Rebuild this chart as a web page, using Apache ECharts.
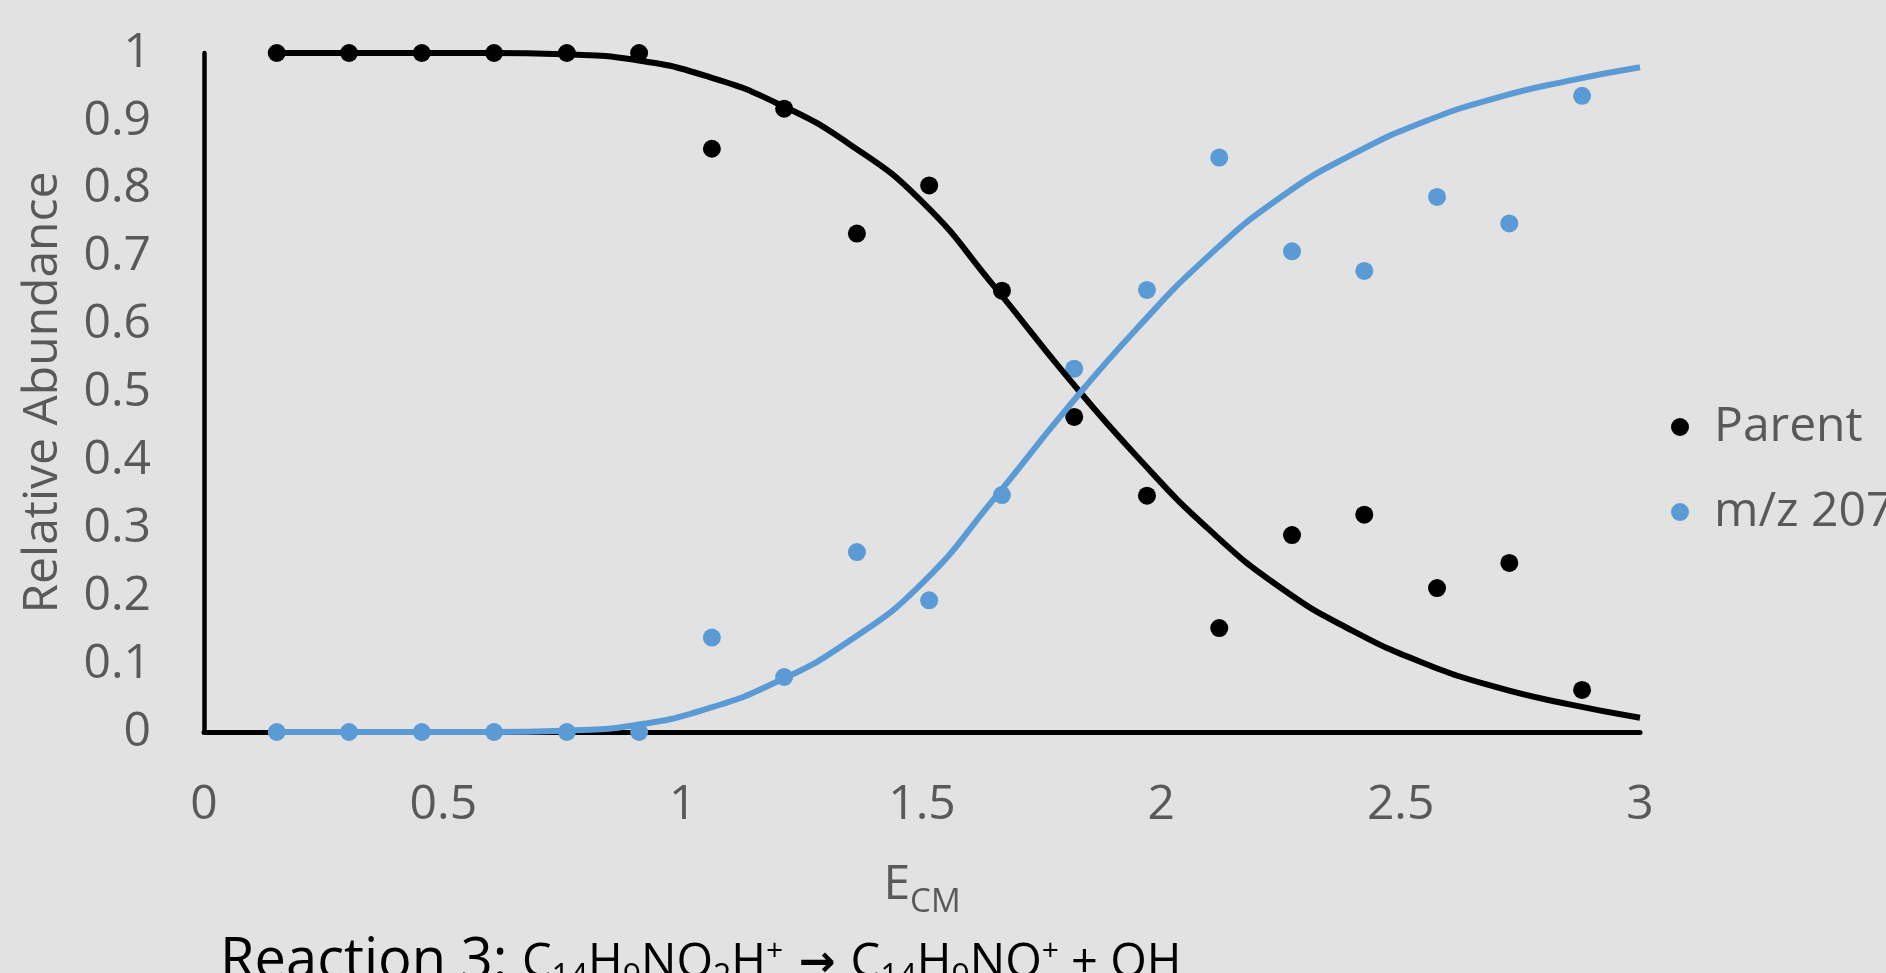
<!DOCTYPE html>
<html>
<head>
<meta charset="utf-8">
<script src="https://cdn.jsdelivr.net/npm/echarts@6/dist/echarts.min.js"></script>
<style>
  html, body { margin: 0; padding: 0; background: #e2e2e2; }
  #chart { width: 1886px; height: 973px; }
</style>
</head>
<body>
<div id="chart"></div>
<script>
// measured points (E_CM vs relative abundance)
const energy = [0.152, 0.303, 0.455, 0.606, 0.758, 0.909, 1.061, 1.212, 1.364, 1.515,
                1.667, 1.818, 1.970, 2.121, 2.273, 2.424, 2.576, 2.727, 2.879]
const parent = [1, 1, 1, 1, 1, 1, 0.859, 0.918, 0.734, 0.805,
                0.650, 0.464, 0.348, 0.153, 0.290, 0.320, 0.212, 0.249, 0.062]
const mz207 = [0, 0, 0, 0, 0, 0, 0.139, 0.081, 0.265, 0.194,
               0.349, 0.535, 0.651, 0.846, 0.708, 0.679, 0.788, 0.749, 0.937]

// fitted curves
const fitEnergy = [0.152, 0.3, 0.45, 0.6, 0.75, 0.9, 1.05, 1.2, 1.35, 1.5,
                   1.65, 1.8, 1.95, 2.1, 2.25, 2.4, 2.55, 2.7, 2.85, 3.0]
const fitParent = [1, 1, 1, 1, 0.998, 0.990, 0.966, 0.925, 0.865, 0.781,
                   0.657, 0.526, 0.405, 0.298, 0.212, 0.149, 0.101, 0.066, 0.041, 0.021]
const fitMz207 = [0, 0, 0, 0, 0.002, 0.010, 0.034, 0.075, 0.135, 0.219,
                  0.343, 0.474, 0.595, 0.702, 0.788, 0.851, 0.899, 0.934, 0.959, 0.979]

const seriesNames = ['Parent', 'm/z 207']
const black = '#000000'
const blue = '#5b9bd5'
const grey = '#595959'
const font = 'Open Sans'

function pairs(xs, ys) {
  return xs.map((x, i) => [x, ys[i]])
}

var myChart = echarts.init(document.getElementById('chart'))

var option = {
  backgroundColor: '#e2e2e2',
  animation: false,
  title: {
    text: '{r|Reaction 3: }{m|C}{s|14}{m|H}{s|9}{m|NO}{s|2}{m|H}{p|+}{a| \u2192 }{m|C}{s|14}{m|H}{s|9}{m|NO}{p|+}{m| + OH}',
    left: 220,
    top: 934,
    padding: 0,
    textStyle: {
      fontWeight: 'normal',
      rich: {
        r: { fontFamily: font, fontWeight: 'normal', fontSize: 56, color: black, verticalAlign: 'bottom', padding: [0, 0, 7, 0] },
        m: { fontFamily: font, fontWeight: 'normal', fontSize: 47, color: black, verticalAlign: 'bottom', padding: [0, 0, 10, 0] },
        a: { fontFamily: 'DejaVu Sans', fontWeight: 'bold', fontSize: 44, color: black, verticalAlign: 'bottom', padding: [0, 0, 10, 0] },
        s: { fontFamily: font, fontWeight: 'normal', fontSize: 32, color: black, verticalAlign: 'bottom', padding: [0, 0, 3, 0] },
        p: { fontFamily: font, fontWeight: 'normal', fontSize: 30, color: black, verticalAlign: 'bottom', padding: [0, 0, 31, 0] }
      }
    }
  },
  legend: {
    data: seriesNames,
    orient: 'vertical',
    left: 1666,
    top: 394,
    itemWidth: 18,
    itemHeight: 18,
    itemGap: 29,
    itemStyle: { opacity: 1 },
    textStyle: { fontFamily: font, fontSize: 48, lineHeight: 56, color: grey, padding: [0, 0, 0, 20] }
  },
  grid: {
    left: 204,
    right: 246,
    top: 53,
    bottom: 241,
    outerBoundsMode: 'none'
  },
  xAxis: {
    type: 'value',
    min: 0,
    max: 3,
    interval: 0.5,
    name: '{e|E}{s|CM}',
    nameLocation: 'middle',
    nameGap: 129,
    nameTextStyle: {
      rich: {
        e: { fontFamily: font, fontSize: 48, color: grey, verticalAlign: 'bottom', padding: [0, 0, 10, 0] },
        s: { fontFamily: font, fontSize: 33, color: grey, verticalAlign: 'bottom', padding: [0, 0, 0, 0] }
      }
    },
    axisLine: { show: true, onZero: false, lineStyle: { color: black, width: 5 } },
    axisTick: { show: false },
    splitLine: { show: false },
    axisLabel: { margin: 49, fontFamily: font, fontSize: 48, lineHeight: 48, color: grey }
  },
  yAxis: {
    type: 'value',
    min: 0,
    max: 1,
    interval: 0.1,
    name: 'Relative Abundance',
    nameLocation: 'middle',
    nameGap: 128,
    nameTextStyle: { fontFamily: font, fontSize: 48, lineHeight: 58, color: grey },
    axisLine: { show: true, onZero: false, lineStyle: { color: black, width: 4.5 } },
    axisTick: { show: false },
    splitLine: { show: false },
    axisLabel: { margin: 53, fontFamily: font, fontSize: 48, color: grey }
  },
  series: [
    {
      name: 'Parent',
      type: 'scatter',
      symbolSize: 18,
      itemStyle: { color: black, opacity: 1 },
      data: pairs(energy, parent),
      z: 2
    },
    {
      name: 'm/z 207',
      type: 'scatter',
      symbolSize: 18,
      itemStyle: { color: blue, opacity: 1 },
      data: pairs(energy, mz207),
      z: 2
    },
    {
      name: 'Parent fit',
      type: 'line',
      showSymbol: false,
      smooth: 0.5,
      lineStyle: { color: black, width: 6 },
      data: pairs(fitEnergy, fitParent),
      z: 3
    },
    {
      name: 'm/z 207 fit',
      type: 'line',
      showSymbol: false,
      smooth: 0.5,
      lineStyle: { color: blue, width: 6 },
      data: pairs(fitEnergy, fitMz207),
      z: 3
    }
  ]
}

myChart.setOption(option)
</script>
</body>
</html>
